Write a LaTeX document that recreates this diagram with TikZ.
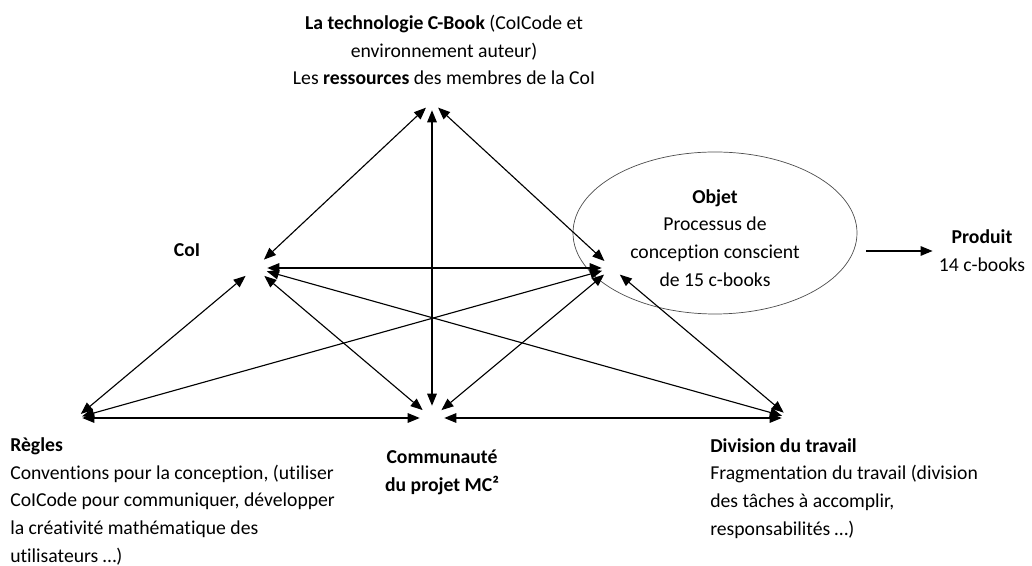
\documentclass[tikz,border=0pt]{standalone}
\usepackage{fontspec}
\setmainfont{Carlito}[Ligatures=NoCommon]
\usetikzlibrary{arrows.meta,shapes.geometric}
\tikzset{
  vtx/.style={circle, minimum size=#1, inner sep=0pt},
  dbl/.style={{Triangle[length=3mm,width=2.4mm]}-{Triangle[length=3mm,width=2.4mm]}, line width=0.8pt},
  arr/.style={-{Triangle[length=3mm,width=2.4mm]}, line width=0.8pt},
  note/.style={font=\fontsize{14}{19.8}\selectfont, inner sep=0pt, align=center},
  notel/.style={note, align=left},
}
\begin{document}
\begin{tikzpicture}[x=1cm,y=1cm]
\useasboundingbox (0,0) rectangle (25.8,14.15);
% ================= meeting points =================
\node[vtx=0.4cm] (T) at (10.8,11.6) {};
\node[vtx=0.6cm] (C) at (6.375,7.45) {};
\node[vtx=0.5cm] (O) at (15.3,7.45) {};
\node[vtx=0.3cm] (R) at (1.9,3.7) {};
\node[vtx=0.6cm] (M) at (10.8,3.7) {};
\node[vtx=0.4cm] (D) at (19.75,3.7) {};
% ================= labels =================
\node[note] (tech) at (11.1,12.9) {\textbf{La technologie C-Book} (CoICode et\\ environnement auteur)\\ Les \textbf{ressources} des membres de la CoI};
\node[note] (coi) at (4.675,7.9) {\textbf{CoI}};
\node[draw=black!70, line width=0.5pt, ellipse, minimum width=7.1cm, minimum height=4.05cm] (objell) at (17.875,8.325) {};
\node[note] (obj) at (17.875,8.2) {\textbf{Objet}\\ Processus de\\ conception conscient\\ de 15 c-books};
\node[note, inner sep=0.15cm] (prod) at (24.55,7.875) {\textbf{Produit}\\ 14 c-books};
\node[notel, anchor=north west] (regles) at (0.25,3.22) {\textbf{Règles}\\ Conventions pour la conception, (utiliser\\ CoICode pour communiquer, développer\\ la créativité mathématique des\\ utilisateurs …)};
\node[note] (comm) at (11.05,2.35) {\textbf{Communauté}\\ \textbf{du projet MC²}};
\node[notel, anchor=north west] (div) at (17.75,3.2) {\textbf{Division du travail}\\ Fragmentation du travail (division\\ des tâches à accomplir,\\ responsabilités …)};
% ================= connectors =================
\draw[dbl] (T) -- (C);
\draw[dbl] (T) -- (O);
\draw[dbl] (T) -- (M);
\draw[dbl] (C) -- (O);
\draw[dbl] (C) -- (R);
\draw[dbl] (C) -- (M);
\draw[dbl] (C) -- (D);
\draw[dbl] (O) -- (R);
\draw[dbl] (O) -- (M);
\draw[dbl] (O) -- (D);
\draw[dbl] (R) -- (M);
\draw[dbl] (M) -- (D);
\draw[arr] ([xshift=0.225cm]objell.east |- prod.west) -- (prod.west);
\end{tikzpicture}
\end{document}
